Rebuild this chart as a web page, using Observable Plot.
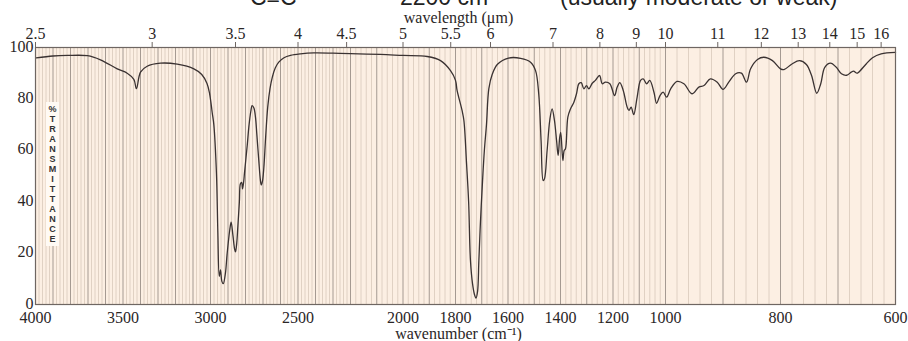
<!DOCTYPE html>
<html>
<head>
<meta charset="utf-8">
<script src="https://cdn.jsdelivr.net/npm/d3@7"></script>
<script src="https://cdn.jsdelivr.net/npm/@observablehq/plot@0.6"></script>
<style>
  html, body { margin: 0; padding: 0; background: #ffffff; }
  #wrap { position: relative; width: 908px; height: 341px; overflow: hidden; }
  #chart { position: absolute; left: 0; top: 0; }
  .title { position: absolute; top: -14px; font: 23px "Liberation Sans", Arial, sans-serif; line-height: 22px; color: #222; white-space: nowrap; }
  #ylab { position: absolute; left: 46px; top: 102px; width: 13px; background: #fffaf4;
          font: bold 9px "Liberation Sans", Arial, sans-serif; line-height: 10px; text-align: center; color: #333; padding: 2px 0; }
</style>
</head>
<body>
<div id="wrap">
  <div id="chart"></div>
  <div class="title" style="left:250px">C≡C</div>
  <div class="title" style="left:400px">2200 cm⁻¹</div>
  <div class="title" style="left:560px">(usually moderate or weak)</div>
  <div id="ylab"></div>
</div>
<script>
// Spectrum: wavenumber (cm^-1) and % transmittance
const wavenumber = [3996,3900,3817,3703,3629,3533,3476,3438,3423,3400,3362,3286,3190,3095,3050,3020,3005,2990,2981,2966,2958,2950,2943,2935,2927,2915,2905,2890,2882,2872,2862,2857,2850,2844,2835,2829,2822,2817,2810,2806,2790,2781,2770,2762,2752,2743,2735,2724,2715,2710,2703,2695,2685,2673,2660,2647,2630,2610,2580,2543,2486,2410,2300,2200,2086,2000,1908,1857,1819,1800,1794,1775,1768,1758,1750,1743,1735,1728,1722,1716,1711,1705,1697,1690,1682,1673,1660,1640,1598,1552,1514,1495,1483,1474,1466,1461,1451,1441,1432,1423,1415,1409,1403,1399,1391,1386,1381,1372,1362,1349,1339,1330,1321,1311,1301,1292,1279,1267,1251,1241,1229,1212,1194,1184,1174,1161,1146,1139,1131,1121,1108,1095,1085,1072,1060,1044,1034,1021,1009,998,991,980,968,954,942,933,922,910,900,890,878,868,859,852,840,829,814,800,794,780,767,755,746,737,730,723,713,703,694,685,677,673,667,664,651,640,625,600];
const transmittance = [96.0,96.7,96.9,96.8,95.2,91.7,90.0,87.6,84.0,90.4,92.7,93.9,93.5,91.7,89.5,86,82,74.5,70,51,28,11,13.5,9,8.1,12,19.7,29,32,27,21.5,20.5,24,30,40,47,47.5,45,48,51,62,69,75,77.4,76.5,72.9,66,56,48.5,46.5,48,53.4,65,76.8,84,88.4,92,94.3,96,96.9,97.5,97.9,97.8,97.6,97.3,96.9,96.5,94.9,91,87.2,83.3,75.5,71.6,55,40,17,8,4,2.5,5,17,32,48,60,70,84,89.6,93.5,95.9,95.8,94.3,91,82,63.8,48.2,48.9,59.9,71.6,76.1,71.6,63.8,58,65,67,56,59.9,60.6,72.9,76.1,78.7,82,85.9,86.3,83.9,85.2,83.9,86.1,87.2,89.1,85.9,86.5,85.9,81.3,84.6,86.3,83.3,76.8,75.5,76.8,73.9,80.7,87.2,87.8,85.9,87.2,82.6,78.3,81.3,82.6,80.7,83.9,86.8,85.9,82,84.6,85.2,87.8,86.5,83.7,86.5,89.8,90,86.5,91.7,95.3,96.2,94.9,91.7,91.4,93.6,94.9,93.4,89.1,82.2,85.9,92.3,93.9,92.3,89.8,89.2,90.4,90.8,90,90.4,93.6,96,97.5,98.1];

// Axes
const wavenumberTicks = [4000,3500,3000,2500,2000,1800,1600,1400,1200,1000,800,600];
const wavelengthTicks = [2.5,3,3.5,4,4.5,5,5.5,6,7,8,9,10,11,12,13,14,15,16];
const transmittanceTicks = [0,20,40,60,80,100];
const scaleBreaks = [4000,2200,1000,600];
const yLabel = "%TRANSMITTANCE";
const xLabel = "wavenumber (cm⁻¹)";
const topLabel = "wavelength (μm)";

const data = wavenumber.map((w, i) => ({w, t: transmittance[i]}));
const gridMajor = d3.range(600, 4001, 100);
const gridMinor = d3.range(600, 4001, 20).filter(v => v % 100 !== 0);

const serif = "'Liberation Serif', 'Times New Roman', serif";
const ink = "#2a2626";

const chart = Plot.plot({
  width: 908,
  height: 341,
  marginTop: 47,
  marginBottom: 37,
  marginLeft: 35,
  marginRight: 13,
  style: {fontFamily: serif, fontSize: "16px", color: ink, background: "transparent"},
  x: {type: "linear", domain: scaleBreaks, range: [35, 350, 665, 895]},
  y: {domain: [0, 100], range: [304, 47]},
  marks: [
    Plot.frame({fill: "#fcefe3", stroke: null}),
    Plot.ruleX(gridMinor, {stroke: "#ddcdc0", strokeWidth: 0.9}),
    Plot.ruleX(gridMajor, {stroke: "#a59a92", strokeWidth: 1}),
    Plot.line(data, {x: "w", y: "t", stroke: "#3a3232", strokeWidth: 1.3, curve: "catmull-rom"}),
    Plot.frame({stroke: "#6e6662", strokeWidth: 1.2}),
    Plot.axisX({anchor: "bottom", ticks: wavenumberTicks, tickFormat: d => String(d), tickSize: 0, tickPadding: 7,
                label: null, fontSize: 16, fontFamily: serif, fill: ink}),
    Plot.axisX({anchor: "top", ticks: wavelengthTicks.map(l => 10000 / l), tickFormat: d => String(+(10000 / d).toFixed(1)),
                tickSize: 6, tickPadding: 3, label: null, fontSize: 16, fontFamily: serif, stroke: "#6e6662", fill: ink}),
    Plot.axisY({ticks: transmittanceTicks, tickFormat: d => String(d), tickSize: 0, tickPadding: 2, dy: -1,
                label: null, fontSize: 16, fontFamily: serif, fill: ink}),
    Plot.text([xLabel], {frameAnchor: "bottom", lineAnchor: "middle", dx: -7, dy: 29, fontSize: 16, fontFamily: serif, fill: ink}),
    Plot.text([topLabel], {frameAnchor: "top", lineAnchor: "middle", dx: -7, dy: -29.5, fontSize: 16, fontFamily: serif, fill: ink})
  ]
});
document.getElementById("chart").appendChild(chart);
document.getElementById("ylab").innerHTML = Array.from(yLabel).join("<br>");
</script>
</body>
</html>
